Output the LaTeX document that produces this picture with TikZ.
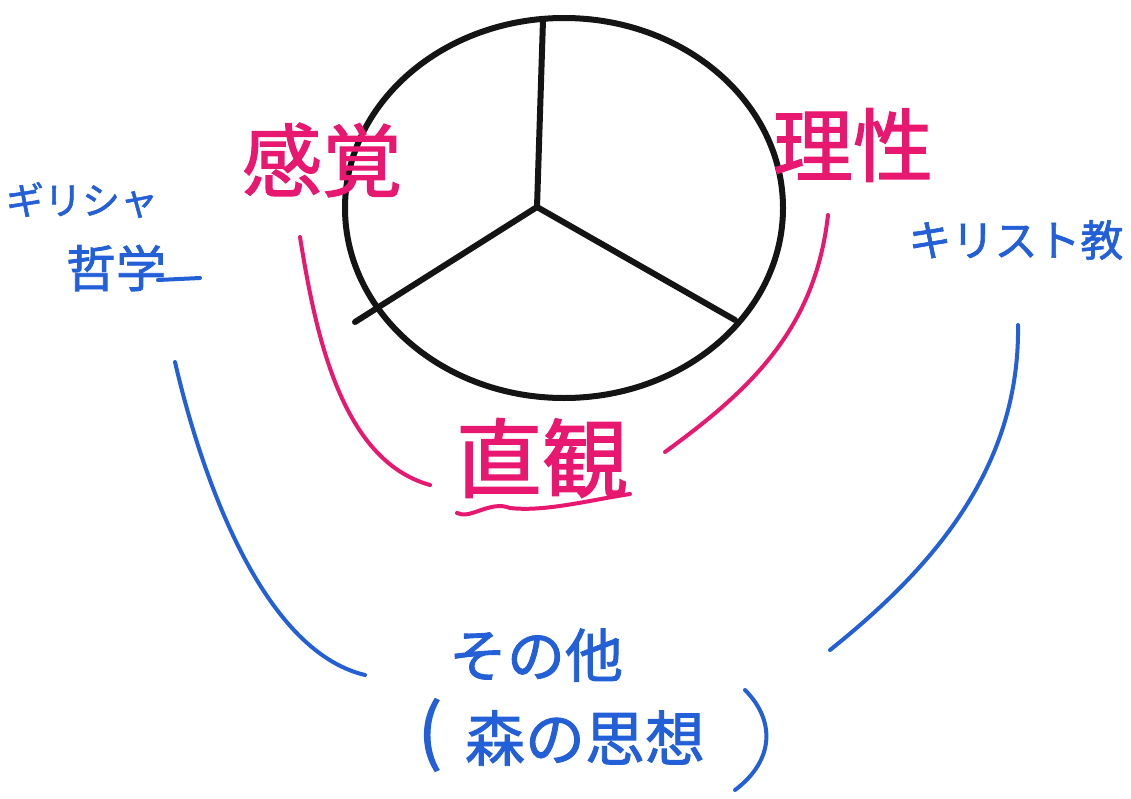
\documentclass[tikz,border=0pt]{standalone}
\usepackage{fontspec}
\newfontfamily\cjk{Noto Sans CJK JP}[FakeBold=1.5]
\definecolor{pen}{RGB}{20,20,20}
\definecolor{pink}{RGB}{232,24,112}
\definecolor{bleu}{RGB}{35,95,215}
\tikzset{
  blk/.style={draw=pen,line width=6pt,line cap=round,line join=round},
  pinkline/.style={draw=pink,line width=4pt,line cap=round},
  blueline/.style={draw=bleu,line width=4pt,line cap=round},
  pinktxt/.style={text=pink,font=\cjk\fontsize{80}{90}\selectfont,inner sep=0pt},
  bluetxt/.style={text=bleu,font=\cjk\fontsize{58}{66}\selectfont,inner sep=0pt,align=center},
}
\begin{document}
\begin{tikzpicture}[x=1pt,y=-1pt]
\useasboundingbox (0,0) rectangle (1131,798);
% circle and spokes
\draw[blk] (564,208) ellipse [x radius=219, y radius=190];
\coordinate (c) at (537,207);
\coordinate (top) at (543,20);
\coordinate (bl) at (355,322);
\coordinate (br) at (735,320);
\draw[blk] (c) -- (top);
\draw[blk] (c) -- (bl);
\draw[blk] (c) -- (br);
% red labels
\node[pinktxt] (kankaku) at (322,160) {感覚};
\node[pinktxt] (risei) at (853,145) {理性};
\node[pinktxt,font=\cjk\fontsize{86}{90}\selectfont] (chokkan) at (542,458) {直観};
\draw[pinkline] (457,513) .. controls (470,520) and (490,500) .. (510,508) .. controls (545,512) and (590,500) .. (630,494);
\coordinate (la) at (300,237);
\coordinate (lb) at (430,485);
\coordinate (ra) at (828,215);
\coordinate (rb) at (665,452);
\draw[pinkline] (la) .. controls (315,330) and (340,460) .. (lb);
\draw[pinkline] (ra) .. controls (815,330) and (750,390) .. (rb);
% blue labels
\node[bluetxt,font=\cjk\fontsize{38}{44}\selectfont] (girisha) at (82,200) {ギリシャ};
\node[bluetxt,font=\cjk\fontsize{50}{56}\selectfont] (tetsugaku) at (116,268) {哲学};
\coordinate (ga) at (158,280);
\coordinate (gb) at (200,278);
\draw[blueline] (ga) -- (gb);
\node[bluetxt,font=\cjk\fontsize{43}{50}\selectfont] (kirisuto) at (1016,240) {キリスト教};
\node[bluetxt] (sonota) at (536,655) {その他};
\node[bluetxt,font=\cjk\fontsize{60}{66}\selectfont] (mori) at (585,738) {森の思想};
\node[bluetxt,font=\cjk\fontsize{72}{72}\selectfont] (lp) at (430,735) {(};
\coordinate (rpa) at (745,690);
\coordinate (rpb) at (735,790);
\draw[blueline] (rpa) .. controls (775,720) and (775,760) .. (rpb);
\coordinate (ba) at (175,362);
\coordinate (bb) at (365,675);
\coordinate (bc) at (1018,325);
\coordinate (bd) at (830,650);
\draw[blueline] (ba) .. controls (200,470) and (260,650) .. (bb);
\draw[blueline] (bc) .. controls (1020,470) and (930,570) .. (bd);
\end{tikzpicture}
\end{document}
